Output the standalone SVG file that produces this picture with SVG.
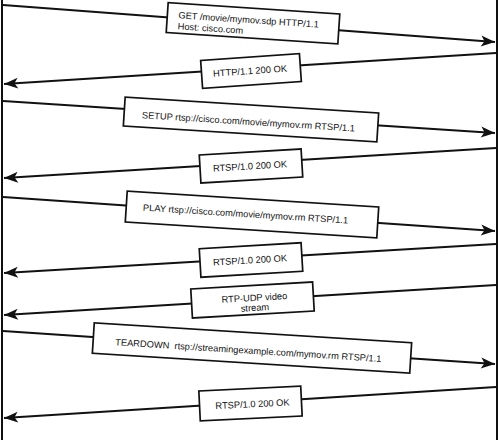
<svg xmlns="http://www.w3.org/2000/svg" width="500" height="440" viewBox="0 0 500 440">
<style>
.life{stroke:#111;stroke-width:2;fill:none}
.msg{stroke:#111;stroke-width:1.8;fill:none}
.box{fill:#fff;stroke:#111;stroke-width:1.7}
text{font-family:"Liberation Sans",Arial,sans-serif;font-size:9.3px;fill:#111}
.c{text-anchor:middle}
</style>
<defs>
<marker id="ah" markerUnits="userSpaceOnUse" markerWidth="17" markerHeight="14" refX="15" refY="7" orient="auto">
<path d="M15,7 L1,1.5 L4.5,7 L1,12.5 Z" fill="#111"/>
</marker>
</defs>
<rect x="0" y="0" width="500" height="440" fill="#fff"/>
<g id="lifelines">
<line class="life" x1="2" y1="0" x2="2" y2="440"/>
<line class="life" x1="497" y1="0" x2="497" y2="440"/>
</g>
<g id="connectors">
<line class="msg" x1="3" y1="5" x2="495" y2="42" marker-end="url(#ah)"/>
<line class="msg" x1="496" y1="53" x2="4" y2="84" marker-end="url(#ah)"/>
<line class="msg" x1="3" y1="101" x2="495" y2="133" marker-end="url(#ah)"/>
<line class="msg" x1="496" y1="148" x2="4" y2="178" marker-end="url(#ah)"/>
<line class="msg" x1="3" y1="197" x2="495" y2="231" marker-end="url(#ah)"/>
<line class="msg" x1="496" y1="244" x2="4" y2="273" marker-end="url(#ah)"/>
<line class="msg" x1="496" y1="285" x2="4" y2="315" marker-end="url(#ah)"/>
<line class="msg" x1="3" y1="331" x2="495" y2="364" marker-end="url(#ah)"/>
<line class="msg" x1="496" y1="387" x2="4" y2="418" marker-end="url(#ah)"/>
</g>
<g id="m1" transform="translate(253,23.3) rotate(3.8)">
<rect class="box" x="-86" y="-15" width="172" height="30"/>
<text x="-75" y="0">GET /movie/mymov.sdp HTTP/1.1</text>
<text x="-75" y="11">Host: cisco.com</text>
</g>
<g id="m2" transform="translate(251,71) rotate(-4)">
<rect class="box" x="-49.5" y="-14" width="99" height="28"/>
<text class="c" x="-1" y="3">HTTP/1.1 200 OK</text>
</g>
<g id="m3" transform="translate(251,119.5) rotate(3.6)">
<rect class="box" x="-127" y="-14.5" width="254" height="29"/>
<text class="c" x="-2.5" y="5.5">SETUP rtsp://cisco.com/movie/mymov.rm RTSP/1.1</text>
</g>
<g id="m4" transform="translate(251,166) rotate(-3.4)">
<rect class="box" x="-51" y="-14" width="102" height="28"/>
<text class="c" x="-1" y="3.3">RTSP/1.0 200 OK</text>
</g>
<g id="m5" transform="translate(252,214.5) rotate(3.6)">
<rect class="box" x="-126" y="-15.5" width="252" height="31"/>
<text class="c" x="-6.5" y="3">PLAY rtsp://cisco.com/movie/mymov.rm RTSP/1.1</text>
</g>
<g id="m6" transform="translate(251,260) rotate(-3.4)">
<rect class="box" x="-51" y="-14.25" width="102" height="28.5"/>
<text class="c" x="-1" y="3.3">RTSP/1.0 200 OK</text>
</g>
<g id="m7" transform="translate(252.5,300) rotate(-3.3)">
<rect class="box" x="-61" y="-14.5" width="122" height="29"/>
<text class="c" x="2" y="1">RTP-UDP video</text>
<text class="c" x="2" y="11">stream</text>
</g>
<g id="m8" transform="translate(252,348) rotate(3.6)">
<rect class="box" x="-159" y="-15.25" width="318" height="30.5"/>
<text class="c" x="-3.5" y="5.8" xml:space="preserve">TEARDOWN  rtsp://streamingexample.com/mymov.rm RTSP/1.1</text>
</g>
<g id="m9" transform="translate(250.5,403.5) rotate(-2.8)">
<rect class="box" x="-51" y="-15" width="102" height="30"/>
<text class="c" x="2" y="3.8">RTSP/1.0 200 OK</text>
</g>
</svg>
